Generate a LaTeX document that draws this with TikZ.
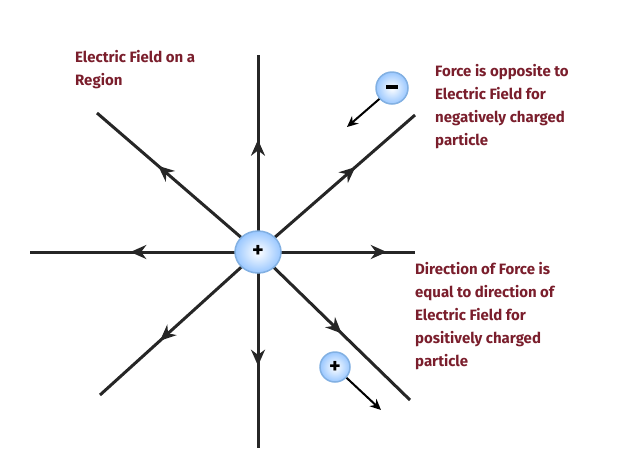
\documentclass[tikz,border=0pt]{standalone}
\usepackage{fontspec}
\setmainfont{Fira Sans}
\usetikzlibrary{arrows.meta,decorations.markings,shapes.geometric}
\definecolor{lbl}{HTML}{7A1E2C}
\tikzset{
 fl/.style={line width=3pt,black!85,postaction={decorate},decoration={markings,mark=at position #1 with {\arrow{Stealth[length=16pt,width=14pt]}}}},
 chg/.style={circle,draw=cyan!60!blue!50,line width=1.5pt,inner color=white,outer color=cyan!45!blue!40,font=\bfseries\fontsize{22}{22}\selectfont,inner sep=0pt},
 lab/.style={text=lbl,font=\bfseries\fontsize{15}{23}\selectfont,align=left,anchor=north west,inner sep=0pt},
 sar/.style={line width=2pt,-{Stealth[length=11pt,width=10pt]}}
}
\begin{document}
\begin{tikzpicture}[x=1pt,y=-1pt]
\useasboundingbox (0,0) rectangle (640,464);
\coordinate (c) at (258,252);
\coordinate (n) at (258,55); \coordinate (s) at (258,448);
\coordinate (w) at (30,252); \coordinate (e) at (415,252);
\coordinate (nw) at (97,113); \coordinate (ne) at (415,115);
\coordinate (sw) at (100,395); \coordinate (se) at (410,400);
\draw[fl=0.57] (c) -- (n);
\draw[fl=0.58] (c) -- (s);
\draw[fl=0.56] (c) -- (w);
\draw[fl=0.82] (c) -- (e);
\draw[fl=0.62] (c) -- (nw);
\draw[fl=0.62] (c) -- (ne);
\draw[fl=0.62] (c) -- (sw);
\draw[fl=0.55] (c) -- (se);
\node[chg,ellipse,minimum width=46pt,minimum height=42pt] (q) at (c) {\raisebox{1pt}{+}};
\node[chg,minimum size=32pt] (m) at (392,88) {\rule[2pt]{12pt}{3.5pt}};
\coordinate (ma) at (347,127);
\draw[sar] (m) -- (ma);
\node[chg,minimum size=30pt] (p) at (335,367) {+};
\coordinate (pa) at (381,410);
\draw[sar] (p) -- (pa);
\node[lab] (t1) at (75,50) {Electric Field on a\\Region};
\node[lab] (t2) at (435,64) {Force is opposite to\\Electric Field for\\negatively charged\\particle};
\node[lab] (t3) at (415,262) {Direction of Force is\\equal to direction of\\Electric Field for\\positively charged\\particle};
\end{tikzpicture}
\end{document}
